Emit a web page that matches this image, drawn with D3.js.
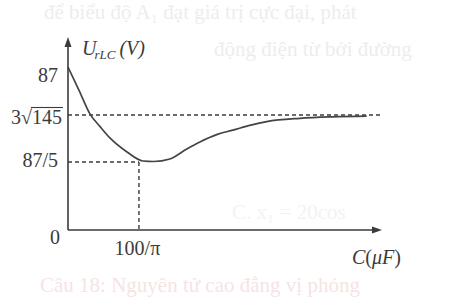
<!DOCTYPE html>
<html>
<head>
<meta charset="utf-8">
<script src="https://cdn.jsdelivr.net/npm/d3@7"></script>
<style>
  body { margin: 0; background: #fff; }
  text { font-family: "Liberation Serif", "DejaVu Serif", serif; }
</style>
</head>
<body>
<div id="chart"></div>
<script>
// capacitance values (uF) and U_rLC (V)
const capC = [0, 4.9, 9.9, 14.4, 18.8, 26.5, 33.6, 38.5, 45.7, 53.3, 59.2, 67, 74, 82, 89.2, 104, 118.8, 134];
const uRLC = [87, 62.6, 37.1, 31.5, 27.0, 21.4, 17.8, 17.6, 18.6, 22.6, 25.4, 28.4, 30.1, 32.1, 33.5, 34.8, 35.4, 35.7];

// marked values on the axes
const yTickValues = [87, 3 * Math.sqrt(145), 87 / 5];
const yTickLabels = ["87", "3√145", "87/5"];
const xTickValues = [100 / Math.PI];
const xTickLabels = ["100/π"];

const width = 453;
const height = 300;
const ink = "#3b3b3b";

const svg = d3
  .select("#chart")
  .append("svg")
  .attr("width", width)
  .attr("height", height);

// faint text showing through from the other side of the page
const ghost = svg.append("g").attr("font-size", 21);
ghost.append("text").attr("x", 44).attr("y", 19).attr("fill", "#ededed")
  .text("để biểu độ A₁ đạt giá trị cực đại, phát");
ghost.append("text").attr("x", 214).attr("y", 56).attr("fill", "#ededed")
  .text("động điện từ bởi đường");
ghost.append("text").attr("x", 232).attr("y", 219).attr("fill", "#f3f3f3")
  .text("C. x₁ = 20cos");
ghost.append("text").attr("x", 40).attr("y", 292).attr("fill", "#f6e4e4")
  .text("Câu 18: Nguyên tử cao đẳng vị phóng");

// scales: the y axis is not to scale in the drawing, so it is piecewise
const x = d3.scaleLinear().domain([0, 140]).range([68, 380]);
const y = d3
  .scaleLinear()
  .domain([0, 87 / 5, 3 * Math.sqrt(145), 87])
  .range([230, 162, 115, 67]);

// dashed guides
const dash = svg.append("g")
  .attr("stroke", ink)
  .attr("stroke-width", 1.4)
  .attr("stroke-dasharray", "4,3")
  .attr("fill", "none");

dash.append("line")
  .attr("x1", x(0)).attr("x2", x(140))
  .attr("y1", y(yTickValues[1])).attr("y2", y(yTickValues[1]));
dash.append("line")
  .attr("x1", x(0)).attr("x2", x(xTickValues[0]))
  .attr("y1", y(yTickValues[2])).attr("y2", y(yTickValues[2]));
dash.append("line")
  .attr("x1", x(xTickValues[0])).attr("x2", x(xTickValues[0]))
  .attr("y1", y(yTickValues[2])).attr("y2", y(0));

// curve
const line = d3
  .line()
  .x((d, i) => x(capC[i]))
  .y((d) => y(d))
  .curve(d3.curveMonotoneX);

svg.append("path")
  .datum(uRLC)
  .attr("d", line)
  .attr("fill", "none")
  .attr("stroke", "#444")
  .attr("stroke-width", 1.7);

// axes lines with arrows
const x0 = x(0);
const y0 = y(0);
const xEnd = x(140) + 2;
const yEnd = 37;
svg.append("line")
  .attr("x1", x0).attr("x2", x0).attr("y1", y0).attr("y2", yEnd + 6)
  .attr("stroke", ink).attr("stroke-width", 1.6);
svg.append("line")
  .attr("x1", x0).attr("x2", xEnd - 6).attr("y1", y0).attr("y2", y0)
  .attr("stroke", ink).attr("stroke-width", 1.6);
svg.append("path")
  .attr("d", `M${x0},${yEnd}L${x0 - 3.5},${yEnd + 10}L${x0 + 3.5},${yEnd + 10}Z`)
  .attr("fill", ink);
svg.append("path")
  .attr("d", `M${xEnd},${y0}L${xEnd - 10},${y0 - 3.5}L${xEnd - 10},${y0 + 3.5}Z`)
  .attr("fill", ink);

// y tick labels
const yLabelShift = [8, 2, -2];
const yAxis = svg.append("g")
  .attr("transform", `translate(${x0},0)`)
  .call(
    d3.axisLeft(y)
      .tickValues(yTickValues)
      .tickSize(0)
      .tickPadding(10)
      .tickFormat((d, i) => yTickLabels[i])
  );
yAxis.select(".domain").remove();
yAxis.selectAll("text")
  .attr("font-family", "Liberation Serif")
  .attr("font-size", 20)
  .attr("fill", ink)
  .attr("dy", (d, i) => yLabelShift[i] + 6);

// the root label gets a proper overline
yAxis.selectAll("text").filter((d, i) => i === 1).each(function () {
  const t = d3.select(this);
  t.text(null).attr("x", -6);
  t.append("tspan").text("3√");
  const num = t.append("tspan").text("145");
  const b = num.node().getBBox();
  const tr = d3.select(this.parentNode);
  tr.append("line")
    .attr("x1", b.x - 1).attr("x2", b.x + b.width + 1)
    .attr("y1", b.y + 2).attr("y2", b.y + 2)
    .attr("stroke", ink).attr("stroke-width", 1.1);
});

// x tick labels
const xAxis = svg.append("g")
  .attr("transform", `translate(0,${y0})`)
  .call(
    d3.axisBottom(x)
      .tickValues(xTickValues)
      .tickSize(0)
      .tickPadding(11)
      .tickFormat((d, i) => xTickLabels[i])
  );
xAxis.select(".domain").remove();
xAxis.selectAll("text")
  .attr("font-family", "Liberation Serif")
  .attr("font-size", 20)
  .attr("fill", ink)
  .attr("dx", -2);

// origin
svg.append("text")
  .attr("x", x0 - 8).attr("y", y0 + 14)
  .attr("text-anchor", "end")
  .attr("font-size", 20).attr("fill", ink)
  .text("0");

// axis titles
const yTitle = svg.append("text")
  .attr("x", 82).attr("y", 55)
  .attr("font-size", 20).attr("font-style", "italic").attr("fill", ink);
yTitle.append("tspan").text("U");
yTitle.append("tspan").attr("font-size", 13).attr("dx", -2).attr("dy", 4).text("rLC");
yTitle.append("tspan").attr("dy", -4).attr("dx", 4).text("(V)");

const xTitle = svg.append("text")
  .attr("x", 352).attr("y", 264)
  .attr("font-size", 20).attr("fill", ink);
xTitle.append("tspan").attr("font-style", "italic").text("C");
xTitle.append("tspan").text("(");
xTitle.append("tspan").attr("font-style", "italic").text("μF");
xTitle.append("tspan").text(")");
</script>
</body>
</html>
